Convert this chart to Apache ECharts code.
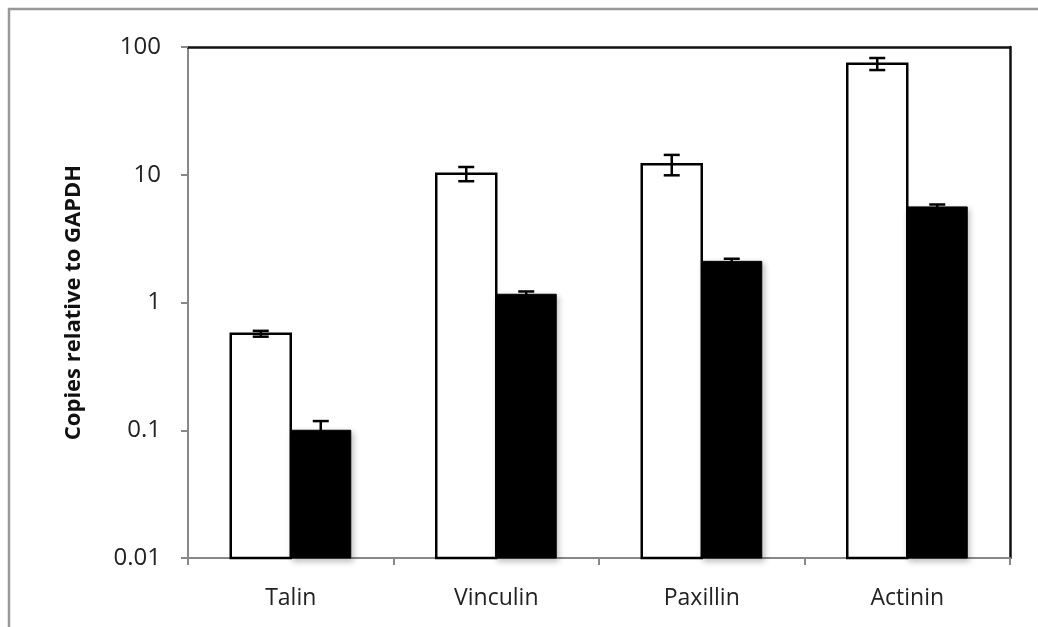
<!DOCTYPE html>
<html>
<head>
<meta charset="utf-8">
<script src="https://cdn.jsdelivr.net/npm/echarts@6/dist/echarts.min.js"></script>
<style>
  html, body { margin: 0; padding: 0; background: #fff; }
  #chart { width: 1038px; height: 627px; }
</style>
</head>
<body>
<div id="chart"></div>
<script>
// values (log scale)
const categories = ['Talin', 'Vinculin', 'Paxillin', 'Actinin'];
const whiteValues = [0.57, 10.2, 12.1, 74];
const whiteErrors = [0.03, 1.3, 2.2, 8];
const blackValues = [0.1, 1.16, 2.1, 5.6];
const blackErrors = [0.018, 0.06, 0.1, 0.25];
const yTicks = [0.01, 0.1, 1, 10, 100];
const yTickLabels = ['0.01', '0.1', '1', '10', '100'];

const textFont = 'Open Sans';
const chart = echarts.init(document.getElementById('chart'));

// side: -1 = left bar of the pair, 1 = right bar
function barRenderer(side, style) {
  return function (params, api) {
    const i = api.value(0);
    const top = api.coord([i, api.value(1)]);
    const base = api.coord([i, yTicks[0]]);
    const w = api.size([1, 1])[0] * 0.292;
    const x = side < 0 ? top[0] - w : top[0];
    return {
      type: 'rect',
      shape: { x: x, y: top[1], width: w, height: base[1] - top[1] },
      style: style
    };
  };
}

function errRenderer(side) {
  return function (params, api) {
    const i = api.value(0);
    const v = api.value(1), e = api.value(2);
    const hi = api.coord([i, v + e]);
    const lo = api.coord([i, v - e]);
    const w = api.size([1, 1])[0] * 0.292;
    const cx = hi[0] + side * w / 2;
    const cap = 8;
    const ls = { stroke: '#000', lineWidth: 2.5 };
    return {
      type: 'group',
      children: [
        { type: 'line', shape: { x1: cx, y1: hi[1], x2: cx, y2: lo[1] }, style: ls },
        { type: 'line', shape: { x1: cx - cap, y1: hi[1], x2: cx + cap, y2: hi[1] }, style: ls },
        { type: 'line', shape: { x1: cx - cap, y1: lo[1], x2: cx + cap, y2: lo[1] }, style: ls }
      ]
    };
  };
}

const whiteData = categories.map((c, i) => [i, whiteValues[i], whiteErrors[i]]);
const blackData = categories.map((c, i) => [i, blackValues[i], blackErrors[i]]);

const option = {
  backgroundColor: '#fff',
  animation: false,
  graphic: [{
    type: 'rect',
    shape: { x: 9, y: 9, width: 1100, height: 700 },
    style: { fill: 'none', stroke: '#999', lineWidth: 2.5 },
    z: 0
  }],
  grid: { left: 188, top: 47, right: 28, bottom: 69 },
  xAxis: [{
    type: 'category',
    data: categories,
    axisLine: { show: true, lineStyle: { color: '#888', width: 2 } },
    axisTick: { show: true, length: 7, lineStyle: { color: '#888', width: 2 } },
    axisLabel: { margin: 29, fontFamily: textFont, fontSize: 23, color: '#222' },
    splitLine: { show: false }
  }, {
    type: 'category',
    position: 'top',
    data: categories,
    axisLine: { show: true, lineStyle: { color: '#111', width: 2.5 } },
    axisTick: { show: false },
    axisLabel: { show: false }
  }],
  yAxis: [{
    type: 'log',
    logBase: 10,
    min: 0.01,
    max: 100,
    name: 'Copies relative to GAPDH',
    nameLocation: 'middle',
    nameRotate: 90,
    nameGap: 103,
    nameTextStyle: { fontFamily: textFont, fontSize: 22, fontWeight: 'bold', color: '#111' },
    axisLine: { show: true, lineStyle: { color: '#888', width: 2 } },
    axisTick: { show: true, length: 7, lineStyle: { color: '#888', width: 2 } },
    axisLabel: {
      margin: 27, fontFamily: textFont, fontSize: 24, color: '#222',
      formatter: function (v) {
        const k = yTicks.findIndex(t => Math.abs(Math.log10(t) - Math.log10(v)) < 1e-6);
        return k >= 0 ? yTickLabels[k] : '';
      }
    },
    splitLine: { show: false }
  }, {
    type: 'log',
    logBase: 10,
    min: 0.01,
    max: 100,
    position: 'right',
    axisLine: { show: true, lineStyle: { color: '#111', width: 2.5 } },
    axisTick: { show: false },
    axisLabel: { show: false },
    splitLine: { show: false }
  }],
  series: [{
    type: 'custom',
    name: 'white',
    data: whiteData,
    encode: { x: 0, y: 1 },
    z: 2,
    renderItem: barRenderer(-1, { fill: '#fff', stroke: '#000', lineWidth: 2.5 })
  }, {
    type: 'custom',
    name: 'black',
    data: blackData,
    encode: { x: 0, y: 1 },
    z: 3,
    renderItem: barRenderer(1, {
      fill: '#000', stroke: '#000', lineWidth: 1,
      shadowBlur: 6, shadowColor: 'rgba(0,0,0,0.25)', shadowOffsetX: 2, shadowOffsetY: 3
    })
  }, {
    type: 'custom',
    name: 'white err',
    data: whiteData,
    encode: { x: 0, y: 1 },
    z: 4,
    renderItem: errRenderer(-1)
  }, {
    type: 'custom',
    name: 'black err',
    data: blackData,
    encode: { x: 0, y: 1 },
    z: 4,
    renderItem: errRenderer(1)
  }]
};

chart.setOption(option);
</script>
</body>
</html>
